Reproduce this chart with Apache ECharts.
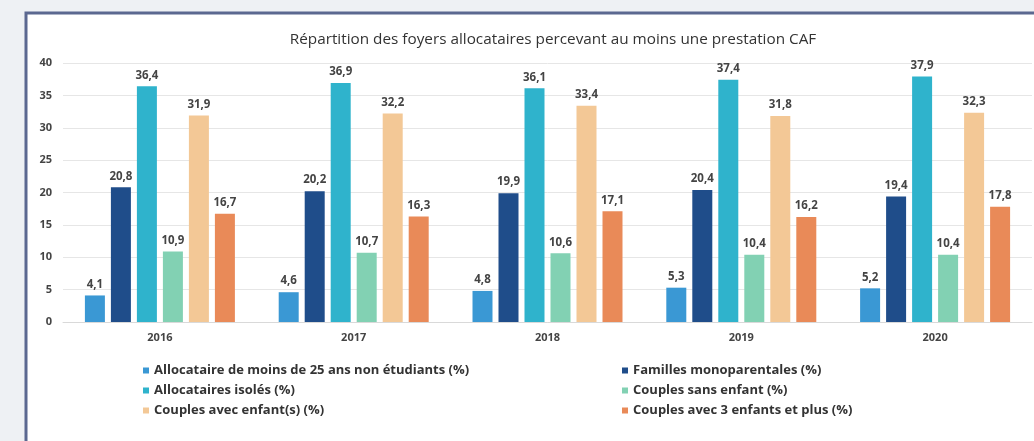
<!DOCTYPE html>
<html><head><meta charset="utf-8">
<script src="https://cdn.jsdelivr.net/npm/echarts@6/dist/echarts.min.js"></script>
<style>html,body{margin:0;padding:0;background:#eef1f4;}#c{width:1034px;height:441px;}</style>
</head><body><div id="c"></div>
<script>
const categories = ['2016','2017','2018','2019','2020'];
const seriesNames = [
  'Allocataire de moins de 25 ans non étudiants (%)',
  'Familles monoparentales (%)',
  'Allocataires isolés (%)',
  'Couples sans enfant (%)',
  'Couples avec enfant(s) (%)',
  'Couples avec 3 enfants et plus (%)'
];
const moins25 = [4.1, 4.6, 4.8, 5.3, 5.2];
const monoparentales = [20.8, 20.2, 19.9, 20.4, 19.4];
const isoles = [36.4, 36.9, 36.1, 37.4, 37.9];
const sansEnfant = [10.9, 10.7, 10.6, 10.4, 10.4];
const avecEnfants = [31.9, 32.2, 33.4, 31.8, 32.3];
const troisEnfants = [16.7, 16.3, 17.1, 16.2, 17.8];
const yTicks = [0, 5, 10, 15, 20, 25, 30, 35, 40];
const title = 'Répartition des foyers allocataires percevant au moins une prestation CAF';

const colors = ['#3a98d4', '#1f4d8a', '#2fb3cc', '#82d1b3', '#f3c896', '#e98a58'];
const values = [moins25, monoparentales, isoles, sansEnfant, avecEnfants, troisEnfants];
const FONT = "'Open Sans', sans-serif";

const chart = echarts.init(document.getElementById('c'));
chart.setOption({
  backgroundColor: 'transparent',
  animation: false,
  textStyle: { fontFamily: FONT },
  graphic: [
    { type: 'rect', shape: { x: 26, y: 13, width: 1020, height: 440 }, style: { fill: '#ffffff', stroke: '#5b6890', lineWidth: 3 }, z: -10 }
  ],
  title: {
    text: title, left: 548, top: 27, textAlign: 'center',
    textStyle: { fontSize: 15.3, fontWeight: 'normal', color: '#333', fontFamily: FONT }
  },
  legend: [
    { orient: 'vertical', left: 138, top: 359, itemWidth: 6, itemHeight: 6, itemGap: 7, icon: 'rect',
      data: [seriesNames[0], seriesNames[2], seriesNames[4]],
      textStyle: { fontSize: 13, color: '#333', fontWeight: 'bold', fontFamily: FONT } },
    { orient: 'vertical', left: 617, top: 359, itemWidth: 6, itemHeight: 6, itemGap: 7, icon: 'rect',
      data: [seriesNames[1], seriesNames[3], seriesNames[5]],
      textStyle: { fontSize: 13, color: '#333', fontWeight: 'bold', fontFamily: FONT } }
  ],
  grid: { left: 63, right: 2, top: 63, bottom: 119 },
  xAxis: {
    type: 'category', data: categories,
    axisLine: { lineStyle: { color: '#d9d9d9' } },
    axisTick: { show: false },
    axisLabel: { color: '#444', fontSize: 11, fontWeight: 'bold', margin: 10 }
  },
  yAxis: {
    type: 'value', min: yTicks[0], max: yTicks[yTicks.length - 1], interval: 5,
    axisLine: { show: false }, axisTick: { show: false },
    axisLabel: { color: '#444', fontSize: 11, fontWeight: 'bold', margin: 11 },
    splitLine: { lineStyle: { color: '#e6e6e6' } }
  },
  series: values.map((v, i) => ({
    name: seriesNames[i], type: 'bar', data: v, barWidth: 20, barGap: '30%',
    itemStyle: { color: colors[i] },
    label: { show: true, position: 'top', distance: 5, fontSize: 11.5, fontWeight: 'bold', color: '#444',
      formatter: p => String(p.value).replace('.', ',') }
  }))
});
</script></body></html>
